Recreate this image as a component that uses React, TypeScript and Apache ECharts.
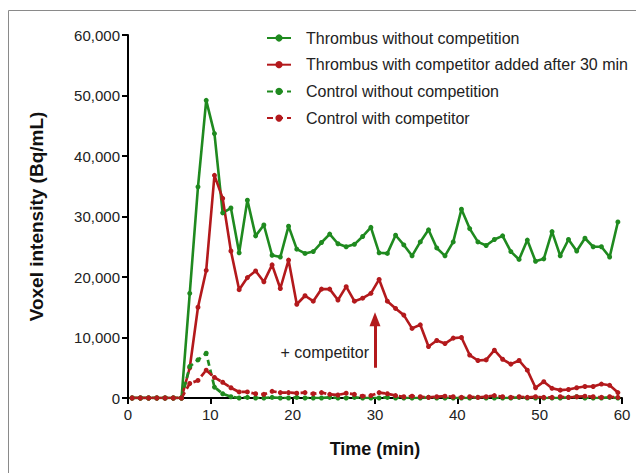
import React, { useEffect, useRef } from "react";
import * as echarts from "echarts";

const times = [0.5, 1.5, 2.5, 3.5, 4.5, 5.5, 6.5, 7.5, 8.5, 9.5, 10.5, 11.5, 12.5, 13.5, 14.5, 15.5, 16.5, 17.5, 18.5, 19.5, 20.5, 21.5, 22.5, 23.5, 24.5, 25.5, 26.5, 27.5, 28.5, 29.5, 30.5, 31.5, 32.5, 33.5, 34.5, 35.5, 36.5, 37.5, 38.5, 39.5, 40.5, 41.5, 42.5, 43.5, 44.5, 45.5, 46.5, 47.5, 48.5, 49.5, 50.5, 51.5, 52.5, 53.5, 54.5, 55.5, 56.5, 57.5, 58.5, 59.5];

const thrombusNoComp = [0, 0, 0, 0, 0, 0, 0, 17300, 34900, 49200, 43700, 30600, 31400, 24000, 32700, 26800, 28600, 23600, 23300, 28400, 24600, 23900, 24200, 25700, 27100, 25500, 25000, 25400, 26700, 28200, 24000, 23900, 26900, 25300, 23500, 25800, 27800, 24800, 23500, 25800, 31200, 28000, 25800, 25200, 26200, 26800, 24200, 22900, 26100, 22600, 23000, 27500, 23500, 26200, 24300, 26400, 25000, 25000, 23300, 29100];

const thrombusComp = [0, 0, 0, 0, 0, 0, 0, 5000, 15000, 21100, 36800, 33000, 24300, 17900, 19900, 21000, 19200, 22000, 18100, 22800, 15500, 16900, 16000, 18000, 18000, 16200, 18400, 16000, 16500, 17300, 19600, 16000, 14800, 13700, 11500, 12100, 8500, 9500, 9000, 9900, 10000, 7100, 6200, 6300, 7900, 6400, 5600, 6200, 4600, 1700, 2700, 1600, 1300, 1400, 1700, 1900, 1900, 2300, 2100, 900];

const controlNoComp = [0, 0, 0, 0, 0, 0, 0, 5200, 6300, 7400, 1800, 700, 200, 0, 100, 0, 0, 100, 0, 0, 100, 0, 0, 0, 100, 0, 0, 100, 0, 0, 0, 100, 0, 0, 0, 0, 100, 0, 0, 0, 0, 0, 100, 0, 0, 0, 0, 100, 0, 0, 0, 0, 0, 100, 200, 0, 0, 0, 100, 0];

const controlComp = [0, 0, 0, 0, 0, 0, 0, 2400, 2900, 4600, 3400, 2600, 1700, 1000, 1000, 700, 600, 1100, 900, 900, 800, 900, 700, 900, 600, 500, 800, 600, 300, 400, 900, 700, 400, 200, 300, 200, 100, 200, 300, 200, 100, 200, 100, 200, 400, 200, 100, 200, 100, 200, 100, 100, 200, 100, 200, 300, 200, 100, 200, 100];

const seriesNames = [
  "Thrombus without competition",
  "Thrombus with competitor added after 30 min",
  "Control without competition",
  "Control with competitor",
];

const xTicks = [0, 10, 20, 30, 40, 50, 60];
const yTicks = [0, 10000, 20000, 30000, 40000, 50000, 60000];

const GREEN = "#1f8a1f";
const RED = "#b3191c";

function pairs(vals: number[]) {
  return vals.map((v, i) => [times[i], v]);
}

export default function App() {
  const ref = useRef<HTMLDivElement>(null);
  useEffect(() => {
    if (!ref.current) return;
    const chart = echarts.init(ref.current, undefined, { renderer: "svg" });
    const mkSeries = (name: string, vals: number[], color: string, dashed: boolean, extra: any = {}) => ({
      name,
      type: "line",
      data: pairs(vals),
      symbol: "circle",
      symbolSize: 5,
      showSymbol: true,
      lineStyle: { color, width: dashed ? 2.7 : 2.6, type: dashed ? [6, 4] : "solid" },
      itemStyle: { color },
      ...extra,
    });
    chart.setOption({
      animation: false,
      backgroundColor: "#ffffff",
      grid: { left: 128, right: 14, top: 35, bottom: 75 },
      legend: {
        orient: "vertical",
        left: 261,
        top: 25,
        itemWidth: 24,
        itemHeight: 9,
        itemGap: 10.7,
        textStyle: { fontFamily: "Liberation Sans, Arial", fontSize: 16, color: "#222", padding: [0, 0, 0, 10] },
        data: seriesNames,
      },
      xAxis: {
        type: "value",
        min: 0,
        max: 60,
        interval: 10,
        name: "Time (min)",
        nameLocation: "middle",
        nameGap: 42,
        nameTextStyle: { fontFamily: "Liberation Sans, Arial", fontSize: 18, fontWeight: "bold", color: "#111" },
        axisLine: { lineStyle: { color: "#000", width: 2 } },
        axisTick: { show: true, length: 6, lineStyle: { color: "#000", width: 2 } },
        axisLabel: {
          fontFamily: "Liberation Sans, Arial",
          fontSize: 15,
          color: "#222",
          margin: 9,
          formatter: (v: number) => (xTicks.includes(v) ? String(v) : ""),
        },
        splitLine: { show: false },
      },
      yAxis: {
        type: "value",
        min: 0,
        max: 60000,
        interval: 10000,
        name: "Voxel intensity (Bq/mL)",
        nameLocation: "middle",
        nameGap: 82,
        nameRotate: 90,
        nameTextStyle: { fontFamily: "Liberation Sans, Arial", fontSize: 19, fontWeight: "bold", color: "#111" },
        axisLine: { show: true, lineStyle: { color: "#000", width: 2 } },
        axisTick: { show: true, length: 6, lineStyle: { color: "#000", width: 2 } },
        axisLabel: {
          fontFamily: "Liberation Sans, Arial",
          fontSize: 15,
          color: "#222",
          margin: 8,
          formatter: (v: number) => (yTicks.includes(v) ? v.toLocaleString("en-US") : ""),
        },
        splitLine: { show: false },
      },
      graphic: [
        {
          type: "rect",
          shape: { x: 8.5, y: 10.5, width: 700, height: 600 },
          style: { fill: "none", stroke: "#8a8a8a", lineWidth: 1 },
          silent: true,
          z: -10,
        },
      ],
      series: [
        mkSeries(seriesNames[0], thrombusNoComp, GREEN, false),
        mkSeries(seriesNames[1], thrombusComp, RED, false, {
          markLine: {
            silent: true,
            symbol: ["none", "triangle"],
            symbolSize: [11, 14],
            lineStyle: { color: RED, width: 3, type: "solid" },
            label: { show: false },
            data: [[{ coord: [30, 5000] }, { coord: [30, 13000] }]],
          },
          markPoint: {
            silent: true,
            symbol: "rect",
            symbolSize: 1,
            itemStyle: { color: "rgba(0,0,0,0)" },
            label: {
              show: true,
              position: "inside",
              formatter: "+ competitor",
              fontFamily: "Liberation Sans, Arial",
              fontSize: 16,
              color: "#222",
            },
            data: [{ coord: [23.9, 7600] }],
          },
        }),
        mkSeries(seriesNames[2], controlNoComp, GREEN, true),
        mkSeries(seriesNames[3], controlComp, RED, true),
      ],
    });
    return () => chart.dispose();
  }, []);
  return (
    <div
      ref={ref}
      style={{ position: "fixed", left: 0, top: 0, width: 636, height: 473 }}
    />
  );
}
